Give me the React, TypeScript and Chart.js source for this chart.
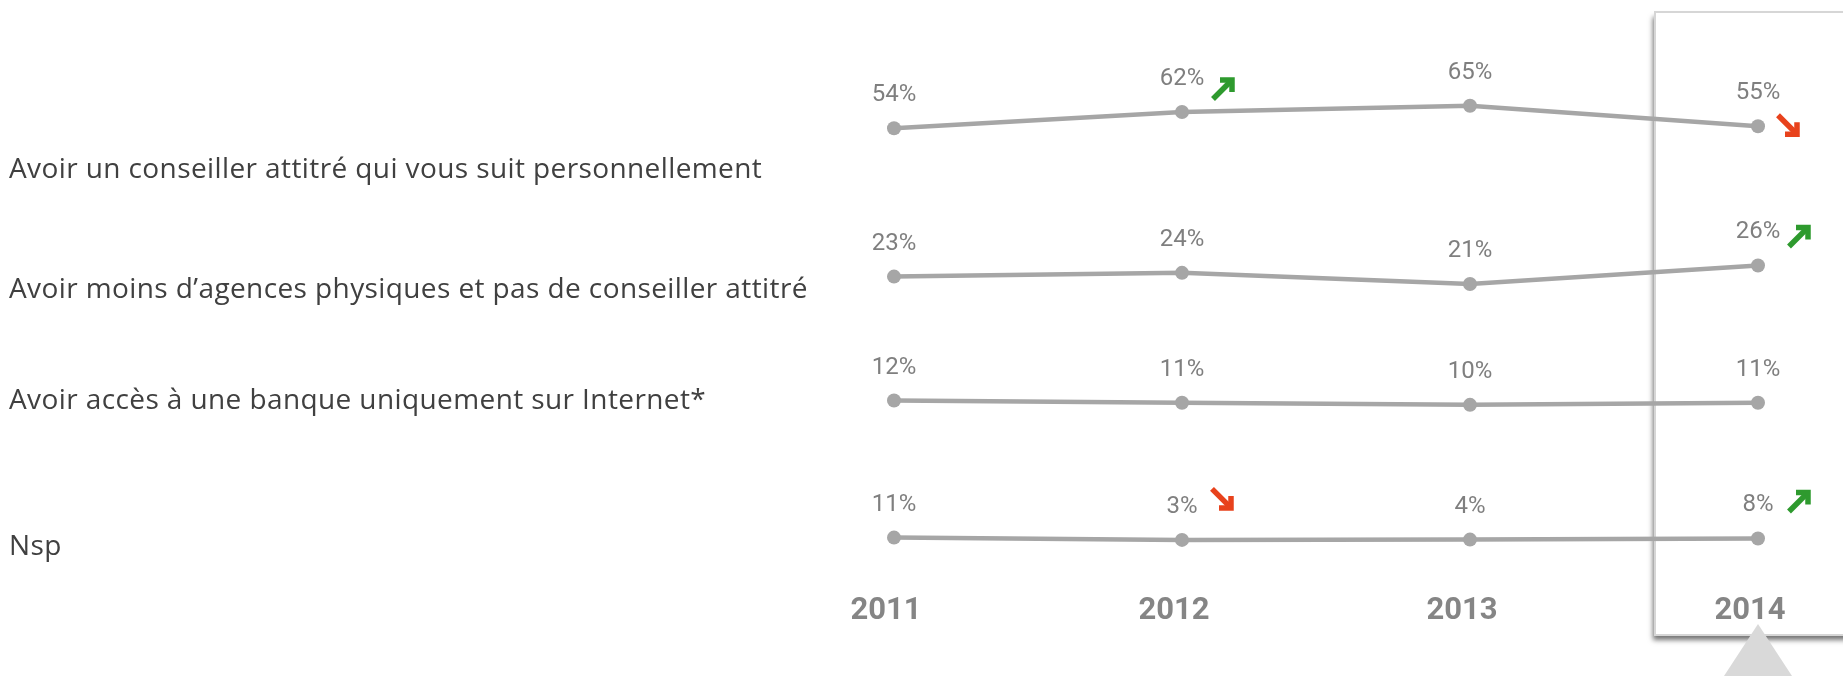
import React, { useEffect, useRef } from 'react';
import { Chart, registerables } from 'chart.js';

Chart.register(...registerables);

// ---- Data ----
const years = ['2011', '2012', '2013', '2014'];
const rowLabels = [
  'Avoir un conseiller attitré qui vous suit personnellement',
  'Avoir moins d’agences physiques et pas de conseiller attitré',
  'Avoir accès à une banque uniquement sur Internet*',
  'Nsp',
];
const conseillerAttitre = [54, 62, 65, 55];
const moinsAgences = [23, 24, 21, 26];
const banqueInternet = [12, 11, 10, 11];
const nsp = [11, 3, 4, 8];
const seriesValues = [conseillerAttitre, moinsAgences, banqueInternet, nsp];
// significant evolutions vs previous wave: series index, year index, direction
const evolSeries = [0, 0, 1, 3, 3];
const evolYear = [1, 3, 3, 1, 3];
const evolDir = ['up', 'down', 'up', 'down', 'up'];

// ---- Per-row scale ranges (each row has its own hidden y axis) ----
const yRanges = [
  [-166, 107],
  [-58, 92],
  [-70, 188],
  [-127, 1787],
];

// ---- Styling ----
const LINE_COLOR = '#a6a6a6';
const VALUE_COLOR = '#7f7f7f';
const LABEL_COLOR = '#404040';
const GREEN = '#2e9a2e';
const RED = '#e8421c';
const rowLabelY = [170, 290, 401, 547];
const arrowOffsets = [
  [41, -23],
  [30, -1],
  [41, -29],
  [40, -41],
  [41, -37],
];

function drawArrow(ctx: CanvasRenderingContext2D, cx: number, cy: number, dir: string, color: string) {
  const s = dir === 'up' ? 1 : -1;
  ctx.save();
  ctx.translate(cx, cy);
  ctx.scale(1, s);
  ctx.strokeStyle = color;
  ctx.lineWidth = 5.5;
  ctx.lineCap = 'butt';
  ctx.lineJoin = 'miter';
  ctx.beginPath();
  ctx.moveTo(-10, 10);
  ctx.lineTo(8, -8);
  ctx.stroke();
  ctx.beginPath();
  ctx.moveTo(-3, -9);
  ctx.lineTo(9, -9);
  ctx.lineTo(9, 3);
  ctx.stroke();
  ctx.restore();
}

const decorPlugin = {
  id: 'decor',
  beforeDraw(chart: any) {
    const ctx = chart.ctx;
    const x = chart.scales.x;
    const px = x.getPixelForValue(3);
    const left = Math.round(px - 103);
    const top = 12;
    const bottom = 635;
    const w = chart.width - left + 20;
    ctx.save();
    ctx.shadowColor = 'rgba(0,0,0,0.55)';
    ctx.shadowBlur = 5;
    ctx.shadowOffsetY = 5;
    ctx.shadowOffsetX = -2;
    ctx.fillStyle = '#ffffff';
    ctx.fillRect(left, top, w, bottom - top);
    ctx.restore();
    ctx.save();
    ctx.strokeStyle = '#d6d6d6';
    ctx.lineWidth = 2;
    ctx.strokeRect(left, top, w, bottom - top);
    ctx.restore();
  },
  afterDraw(chart: any) {
    const ctx = chart.ctx;
    const x = chart.scales.x;
    // row labels
    ctx.save();
    ctx.fillStyle = LABEL_COLOR;
    ctx.font = '28px "Open Sans"';
    (ctx as any).letterSpacing = '0.4px';
    ctx.textAlign = 'left';
    ctx.textBaseline = 'middle';
    rowLabels.forEach((t, i) => ctx.fillText(t, 9, rowLabelY[i]));
    ctx.restore();
    // value labels
    ctx.save();
    ctx.fillStyle = VALUE_COLOR;
    ctx.font = '24px Roboto';
    ctx.textAlign = 'center';
    ctx.textBaseline = 'middle';
    chart.data.datasets.forEach((ds: any, di: number) => {
      const meta = chart.getDatasetMeta(di);
      meta.data.forEach((pt: any, i: number) => {
        ctx.fillText(ds.data[i] + '%', pt.x, pt.y - 33);
      });
    });
    ctx.restore();
    // evolution arrows
    evolSeries.forEach((s, k) => {
      const pt = chart.getDatasetMeta(s).data[evolYear[k]];
      const dir = evolDir[k];
      drawArrow(ctx, pt.x + arrowOffsets[k][0], pt.y + arrowOffsets[k][1], dir, dir === 'up' ? GREEN : RED);
    });
    // pointer triangle under the current year
    const px = x.getPixelForValue(3);
    ctx.save();
    ctx.fillStyle = '#d9d9d9';
    ctx.beginPath();
    ctx.moveTo(px, 624);
    ctx.lineTo(px + 34, chart.height);
    ctx.lineTo(px - 34, chart.height);
    ctx.closePath();
    ctx.fill();
    ctx.restore();
  },
};

export default function App() {
  const ref = useRef<HTMLCanvasElement | null>(null);
  useEffect(() => {
    if (!ref.current) return;
    const yScales: any = {};
    yRanges.forEach((r, i) => {
      yScales['y' + i] = { type: 'linear', display: false, min: r[0], max: r[1] };
    });
    const chart = new Chart(ref.current, {
      type: 'line',
      data: {
        labels: years,
        datasets: seriesValues.map((vals, i) => ({
          label: rowLabels[i],
          data: vals,
          yAxisID: 'y' + i,
          borderColor: LINE_COLOR,
          backgroundColor: LINE_COLOR,
          borderWidth: 4.5,
          pointRadius: 7,
          pointBackgroundColor: LINE_COLOR,
          pointBorderWidth: 0,
          tension: 0,
          clip: false as any,
        })),
      },
      options: {
        animation: false,
        responsive: false,
        devicePixelRatio: 1,
        layout: { padding: { left: 894, right: 85, top: 20, bottom: 31 } },
        plugins: { legend: { display: false }, tooltip: { enabled: false } },
        scales: {
          x: {
            type: 'category',
            offset: false,
            grid: { display: false, drawTicks: false },
            border: { display: false },
            ticks: {
              color: '#858585',
              font: { family: 'Roboto', size: 31, weight: 'bold' },
              padding: 15,
              labelOffset: -8,
            },
          },
          ...yScales,
        },
      },
      plugins: [decorPlugin],
    });
    return () => chart.destroy();
  }, []);
  return (
    <canvas
      ref={ref}
      width={1843}
      height={676}
      style={{ position: 'fixed', left: 0, top: 0, width: 1843, height: 676, display: 'block', background: '#fff' }}
    />
  );
}
